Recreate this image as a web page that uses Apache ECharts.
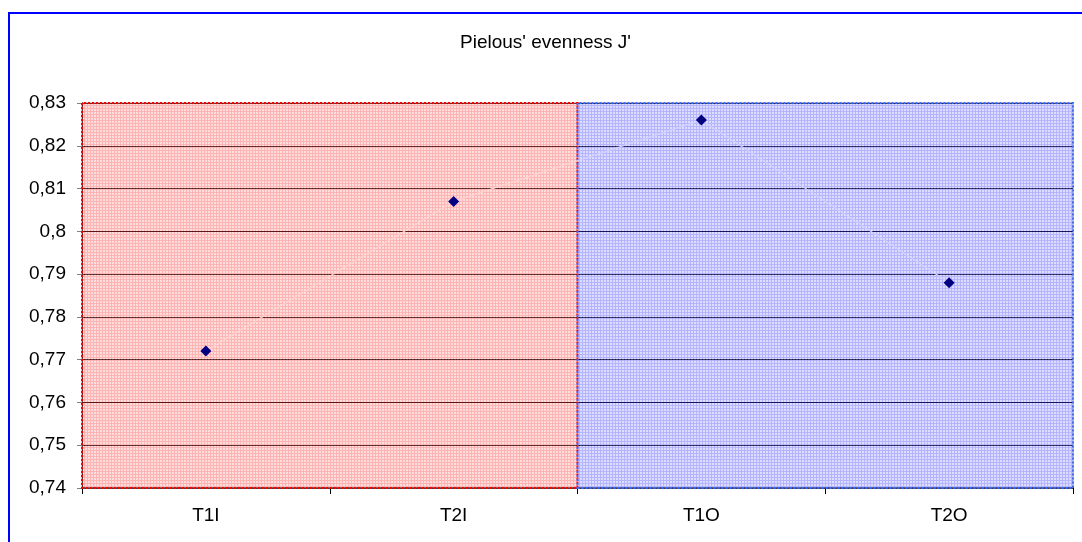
<!DOCTYPE html>
<html>
<head>
<meta charset="utf-8">
<title>Pielous' evenness J'</title>
<script src="https://cdn.jsdelivr.net/npm/echarts@6/dist/echarts.min.js"></script>
<style>
  html, body { margin: 0; padding: 0; background: #fff; }
  #chart { width: 1082px; height: 542px; }
</style>
</head>
<body>
<div id="chart"></div>
<script>
// Sampling sites and their Pielou evenness values
const categories = ['T1I', 'T2I', 'T1O', 'T2O'];
const evenness = [0.772, 0.807, 0.826, 0.788];

// Value axis range and step
const yMin = 0.74;
const yMax = 0.83;
const yStep = 0.01;

// Shaded zones, in category-slot units (0..4): inner sites, outer sites
const zones = [[0, 2], [2, 4]];

// Small cross-hatch tile; semi-transparent so grid lines show through tinted
function hatch(dark, light) {
  const c = document.createElement('canvas');
  c.width = 3; c.height = 3;
  const g = c.getContext('2d');
  g.fillStyle = light;
  g.fillRect(1, 1, 2, 2);
  g.fillStyle = dark;
  g.fillRect(0, 0, 3, 1);
  g.fillRect(0, 1, 1, 2);
  return c;
}
const redTile = hatch('rgba(255,58,58,0.38)', 'rgba(255,163,163,0.38)');
const blueTile = hatch('rgba(58,58,255,0.38)', 'rgba(163,163,255,0.38)');

const zoneStyles = [
  { color: { image: redTile, repeat: 'repeat' }, borderColor: '#ff0000', borderWidth: 2, borderType: 'dotted' },
  { color: { image: blueTile, repeat: 'repeat' }, borderColor: '#3a6cff', borderWidth: 2, borderType: 'dotted' }
];

const chart = echarts.init(document.getElementById('chart'), null, { renderer: 'canvas' });

const font = 'Liberation Sans, Arial, sans-serif';

chart.setOption({
  animation: false,
  backgroundColor: '#ffffff',
  title: {
    text: "Pielous' evenness J'",
    left: 455,
    top: 28,
    textStyle: { fontFamily: font, fontSize: 19, fontWeight: 'normal', color: '#000' }
  },
  graphic: [{
    type: 'rect',
    shape: { x: 9, y: 13, width: 1200, height: 800 },
    style: { fill: 'none', stroke: '#0000ff', lineWidth: 2 },
    silent: true
  }],
  grid: {
    left: 82, right: 9, top: 103, bottom: 54,
    show: true, borderColor: '#8a8a8a', borderWidth: 1
  },
  xAxis: [{
    type: 'category',
    data: categories,
    boundaryGap: true,
    axisLine: { lineStyle: { color: '#404040', width: 2 } },
    axisTick: { show: true, length: 6, lineStyle: { color: '#000', width: 1 } },
    axisLabel: { fontFamily: font, fontSize: 19, color: '#000', margin: 18 },
    splitLine: { show: false }
  }, {
    type: 'value',
    min: 0, max: zones.length * 2,
    show: false
  }],
  yAxis: {
    type: 'value',
    min: yMin, max: yMax, interval: yStep,
    axisLine: { show: true, lineStyle: { color: '#000', width: 1 } },
    axisTick: { show: true, length: 5, lineStyle: { color: '#808080' } },
    axisLabel: {
      fontFamily: font, fontSize: 19, color: '#000', margin: 16,
      formatter: v => String(+v.toFixed(2)).replace('.', ',')
    },
    splitLine: { show: true, lineStyle: { color: '#000', width: 1 } }
  },
  series: [{
    type: 'line',
    xAxisIndex: 1,
    data: [],
    z: 2,
    markArea: {
      silent: true,
      data: zones.map((z, i) => [
        { xAxis: z[0], yAxis: yMin, itemStyle: zoneStyles[i] },
        { xAxis: z[1], yAxis: yMax }
      ])
    }
  }, {
    type: 'line',
    data: evenness,
    z: 3,
    symbol: 'diamond',
    symbolSize: 11,
    itemStyle: { color: '#000080' },
    lineStyle: {
      width: 1.2,
      color: new echarts.graphic.LinearGradient(0, 0, 1, 0, [
        { offset: 0, color: '#ffd0d0' },
        { offset: 0.5, color: '#ffd0d0' },
        { offset: 0.5, color: '#d0d0ff' },
        { offset: 1, color: '#d0d0ff' }
      ])
    }
  }]
});
</script>
</body>
</html>
